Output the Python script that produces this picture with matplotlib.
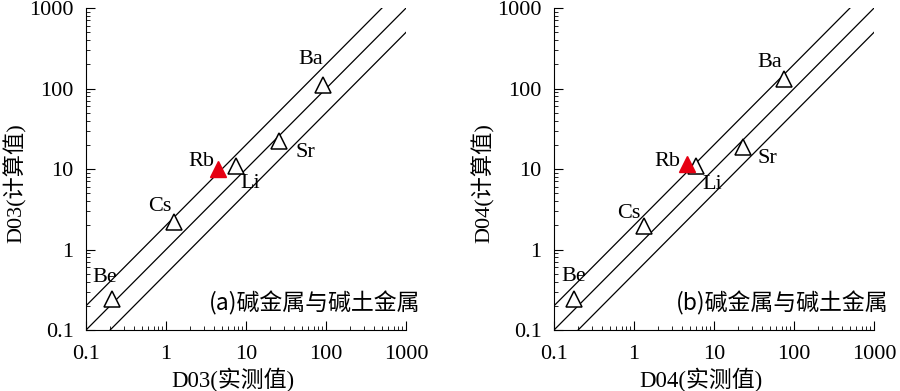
import numpy as np
import matplotlib.pyplot as plt
from matplotlib.ticker import LogLocator, FuncFormatter

plt.rcParams['font.family'] = ['Liberation Serif', 'Noto Sans CJK SC']

elements = ['Be', 'Cs', 'Rb', 'Li', 'Sr', 'Ba']

# panel (a): D03
a_measured = [0.21, 1.27, 4.5, 7.4, 26, 92]
a_calc = [0.24, 2.2, 9.9, 11, 22, 110]
a_offsets = [(-7, 22), (-15, 15), (-17, 8), (15, -18), (26, -11), (-12, 26)]

# panel (b): D04
b_measured = [0.18, 1.35, 4.6, 6.0, 23, 74]
b_calc = [0.24, 1.95, 11.4, 11, 18.6, 131]
b_offsets = [(-1, 23), (-16, 13), (-20, 3), (16, -19), (24, -11), (-14, 17)]

ratios = [2, 1, 0.5]
highlight = 'Rb'

panels = [
    ([0.0956, 0.156, 0.3556, 0.8235], a_measured, a_calc, a_offsets,
     'D03(实测值)', 'D03(计算值)', '(a)碱金属与碱土金属'),
    ([0.6156, 0.156, 0.3556, 0.8235], b_measured, b_calc, b_offsets,
     'D04(实测值)', 'D04(计算值)', '(b)碱金属与碱土金属'),
]

fig = plt.figure(figsize=(9, 3.91), dpi=100)

for rect, xs, ys, offs, xlab, ylab, tag in panels:
    ax = fig.add_axes(rect)
    ax.set_xscale('log')
    ax.set_yscale('log')
    ax.set_xlim(0.1, 1000)
    ax.set_ylim(0.1, 1000)

    xx = np.array([0.1, 1000])
    for r in ratios:
        ax.plot(xx, xx * r, color='black', lw=0.9, zorder=1)

    for el, x, y, off in zip(elements, xs, ys, offs):
        if el == highlight:
            ax.plot(x, y, marker='^', ms=11, mfc='#e60012', mec='#e60012', zorder=4)
        else:
            ax.plot(x, y, marker='^', ms=11, mfc='white', mec='black', mew=1.1, zorder=3)
        ax.annotate(el, (x, y), xytext=off, textcoords='offset pixels',
                    ha='center', va='center', fontsize=16)

    ax.spines['top'].set_visible(False)
    ax.spines['right'].set_visible(False)
    ax.xaxis.set_major_locator(LogLocator(base=10, numticks=10))
    ax.yaxis.set_major_locator(LogLocator(base=10, numticks=10))
    ax.xaxis.set_minor_locator(LogLocator(base=10, subs=np.arange(2, 10), numticks=10))
    ax.yaxis.set_minor_locator(LogLocator(base=10, subs=np.arange(2, 10), numticks=10))
    fmt = FuncFormatter(lambda v, p: '%g' % v)
    ax.xaxis.set_major_formatter(fmt)
    ax.yaxis.set_major_formatter(fmt)
    ax.tick_params(which='major', direction='in', length=6.5, labelsize=16, pad=9)
    ax.tick_params(which='minor', direction='in', length=3)
    ax.tick_params(axis='x', which='major', pad=11)

    ax.set_xlabel(xlab, fontsize=16.5)
    ax.set_ylabel(ylab, fontsize=16)
    ax.xaxis.set_label_coords(0.46, -0.118)
    ax.yaxis.set_label_coords(-0.185, 0.456)
    ax.text(1.044, 0.084, tag, transform=ax.transAxes, ha='right', va='center',
            fontsize=16.5, family='Noto Sans CJK SC')

fig.savefig('out.png', dpi=100)
